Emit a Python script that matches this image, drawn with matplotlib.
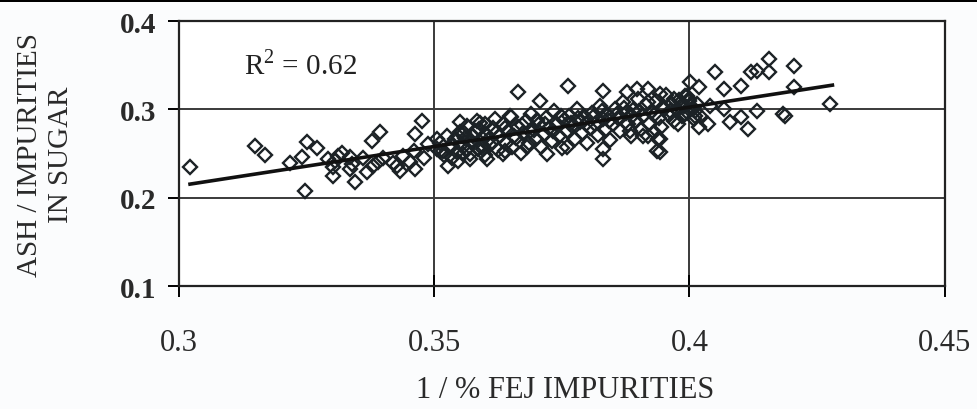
import numpy as np
import matplotlib.pyplot as plt
from matplotlib.patches import Rectangle

# scattered points (1 / % FEJ impurities, ash / impurities in sugar)
ash_x = [
    0.3022, 0.3149, 0.3169, 0.3218, 0.3241, 0.3251, 0.3271, 0.3292, 0.3302, 0.3312,
    0.3335, 0.3302, 0.3345, 0.3247, 0.3335, 0.3369, 0.3390, 0.3378, 0.3394, 0.3427,
    0.3433, 0.3453, 0.3463, 0.3463, 0.3476, 0.3488, 0.3506, 0.3518, 0.3527, 0.3547,
    0.3551, 0.3547, 0.3565, 0.3584, 0.3576, 0.3596, 0.3600, 0.3571, 0.3604, 0.3557,
    0.3512, 0.3305, 0.3320, 0.3340, 0.3360, 0.3380, 0.3400, 0.3420, 0.3440, 0.3460,
    0.3480,
    # dense band
    0.3505, 0.3512, 0.3520, 0.3525, 0.3530, 0.3535, 0.3540, 0.3545, 0.3550, 0.3552,
    0.3560, 0.3565, 0.3570, 0.3575, 0.3580, 0.3585, 0.3590, 0.3595, 0.3600, 0.3602,
    0.3610, 0.3615, 0.3620, 0.3625, 0.3630, 0.3635, 0.3640, 0.3645, 0.3650, 0.3652,
    0.3660, 0.3665, 0.3670, 0.3675, 0.3680, 0.3685, 0.3690, 0.3695, 0.3700, 0.3705,
    0.3710, 0.3715, 0.3720, 0.3725, 0.3730, 0.3735, 0.3740, 0.3745, 0.3750, 0.3755,
    0.3760, 0.3765, 0.3770, 0.3775, 0.3780, 0.3785, 0.3790, 0.3795, 0.3800, 0.3805,
    0.3810, 0.3815, 0.3820, 0.3825, 0.3830, 0.3835, 0.3840, 0.3845, 0.3850, 0.3855,
    0.3860, 0.3865, 0.3870, 0.3875, 0.3880, 0.3885, 0.3890, 0.3895, 0.3900, 0.3905,
    0.3910, 0.3915, 0.3920, 0.3925, 0.3930, 0.3935, 0.3940, 0.3945, 0.3950, 0.3955,
    0.3960, 0.3965, 0.3970, 0.3975, 0.3980, 0.3985, 0.3990, 0.3995, 0.4000, 0.4005,
    0.4010, 0.3992, 0.3978, 0.3985, 0.3990, 0.4000, 0.4010, 0.4015, 0.3975, 0.4020,
    0.3535, 0.3558, 0.3572, 0.3588, 0.3606, 0.3622, 0.3638, 0.3656, 0.3672, 0.3688,
    0.3702, 0.3718, 0.3733, 0.3748, 0.3768, 0.3782, 0.3798, 0.3812, 0.3828, 0.3842,
    0.3858, 0.3872, 0.3888, 0.3902, 0.3918, 0.3932, 0.3948, 0.3962, 0.3983, 0.4003,
    # upper / lower spread, middle
    0.3665, 0.3763, 0.3831, 0.3878, 0.3898, 0.3918, 0.3943, 0.4002, 0.3708, 0.3649,
    0.3682, 0.3722, 0.3761, 0.3831, 0.3831, 0.3910, 0.3943, 0.3943, 0.3884, 0.3635,
    0.3596, 0.3639, 0.3614,
    # right part
    0.4051, 0.4100, 0.4067, 0.4120, 0.4133, 0.4155, 0.4155, 0.4204, 0.4204, 0.4184,
    0.4114, 0.4133, 0.4100, 0.4067, 0.4080, 0.4037, 0.4018, 0.4041, 0.4018, 0.3937,
    0.3939, 0.3918, 0.4008, 0.3992, 0.3969, 0.3996, 0.4276, 0.4188,
]
ash_y = [
    0.2347, 0.2584, 0.2482, 0.2392, 0.2460, 0.2630, 0.2562, 0.2437, 0.2347, 0.2471,
    0.2460, 0.2245, 0.2177, 0.2075, 0.2324, 0.2290, 0.2403, 0.2641, 0.2743, 0.2358,
    0.2301, 0.2403, 0.2324, 0.2720, 0.2867, 0.2607, 0.2664, 0.2528, 0.2358, 0.2698,
    0.2856, 0.2415, 0.2550, 0.2867, 0.2698, 0.2584, 0.2834, 0.2437, 0.2437, 0.2494,
    0.2528, 0.2415, 0.2505, 0.2380, 0.2450, 0.2355, 0.2445, 0.2395, 0.2475, 0.2530,
    0.2455,
    0.2550, 0.2620, 0.2480, 0.2700, 0.2580, 0.2450, 0.2660, 0.2520, 0.2740, 0.2600,
    0.2680, 0.2810, 0.2500, 0.2620, 0.2760, 0.2550, 0.2850, 0.2670, 0.2480, 0.2720,
    0.2600, 0.2790, 0.2890, 0.2540, 0.2700, 0.2830, 0.2620, 0.2760, 0.2910, 0.2570,
    0.2680, 0.2800, 0.2510, 0.2730, 0.2870, 0.2620, 0.2950, 0.2770, 0.2660, 0.2830,
    0.2580, 0.2720, 0.2900, 0.2790, 0.2640, 0.2980, 0.2840, 0.2700, 0.2560, 0.2880,
    0.2750, 0.2930, 0.2810, 0.2670, 0.3000, 0.2860, 0.2730, 0.2910, 0.2620, 0.2790,
    0.2960, 0.2840, 0.2710, 0.3040, 0.2890, 0.2770, 0.2940, 0.2650, 0.2830, 0.3010,
    0.2900, 0.2760, 0.3080, 0.2960, 0.2830, 0.2700, 0.2990, 0.2870, 0.3120, 0.2780,
    0.2930, 0.3050, 0.2840, 0.2970, 0.2740, 0.3090, 0.2900, 0.2800, 0.3010, 0.3160,
    0.2940, 0.3060, 0.2870, 0.2990, 0.3110, 0.2920, 0.3040, 0.2970, 0.3090, 0.3000,
    0.2920, 0.3150, 0.2830, 0.3050, 0.2950, 0.3120, 0.2980, 0.3060, 0.3000, 0.2930,
    0.2590, 0.2730, 0.2640, 0.2780, 0.2650, 0.2730, 0.2790, 0.2700, 0.2820, 0.2760,
    0.2880, 0.2830, 0.2760, 0.2930, 0.2850, 0.2900, 0.2840, 0.2910, 0.2980, 0.2870,
    0.2950, 0.3020, 0.2920, 0.2980, 0.3080, 0.2950, 0.3030, 0.2980, 0.3080, 0.3040,
    0.3196, 0.3264, 0.3207, 0.3196, 0.3230, 0.3230, 0.3173, 0.3309, 0.3094, 0.2924,
    0.2573, 0.2494, 0.2573, 0.2550, 0.2437, 0.2698, 0.2664, 0.2516, 0.2754, 0.2494,
    0.2550, 0.2528, 0.2630,
    0.3422, 0.3264, 0.3230, 0.3422, 0.3434, 0.3570, 0.3422, 0.3490, 0.3253, 0.2947,
    0.2777, 0.2981, 0.2913, 0.3003, 0.2856, 0.2834, 0.2800, 0.3037, 0.3253, 0.2528,
    0.2664, 0.2698, 0.2890, 0.2947, 0.3117, 0.3151, 0.3060, 0.2924,
]

# linear trend as drawn in the chart (end points)
trend_x = [0.3022, 0.4280]
trend_y = [0.2154, 0.3275]
r2_text = r"R$^{\mathregular{2}}$ = 0.62"

x_ticks = [0.3, 0.35, 0.4, 0.45]
x_tick_labels = ["0.3", "0.35", "0.4", "0.45"]
y_ticks = [0.1, 0.2, 0.3, 0.4]
y_tick_labels = ["0.1", "0.2", "0.3", "0.4"]

plt.rcParams['font.family'] = ['Liberation Serif', 'DejaVu Serif']

fig = plt.figure(figsize=(9.77, 4.10), dpi=100)
fig.patch.set_facecolor('#fbfcfd')
ax = fig.add_axes([0.183, 0.300, 0.784, 0.646])
ax.set_facecolor('white')

ax.plot(ash_x, ash_y, linestyle='none', marker='D', markersize=7,
        markerfacecolor='none', markeredgecolor='#1c2226', markeredgewidth=1.7,
        zorder=3)
ax.plot(trend_x, trend_y, color='#111111', linewidth=2.6, zorder=4)

ax.text(0.3128, 0.351, r2_text, fontsize=21, color='#222222', va='center')

ax.set_xlim(0.3, 0.45)
ax.set_ylim(0.1, 0.4)
ax.set_xticks(x_ticks)
ax.set_xticklabels(x_tick_labels, fontsize=22, color='#2a2a2a')
ax.set_yticks(y_ticks)
ax.set_yticklabels(y_tick_labels, fontsize=21, fontweight='bold', color='#2a2a2a')
ax.tick_params(axis='x', direction='inout', length=16, width=1.4, pad=22)
ax.tick_params(axis='y', direction='out', length=8, width=1.4, pad=8)

ax.grid(True, color='#3a3a3a', linewidth=1.4)
ax.set_axisbelow(True)
for s in ax.spines.values():
    s.set_linewidth(1.6)
    s.set_color('#222222')

fig.text(0.578, 0.048, "1 / % FEJ IMPURITIES", fontsize=22, color='#2a2a2a',
         ha='center', va='center')
fig.text(0.047, 0.622, "ASH / IMPURITIES\nIN SUGAR", fontsize=21, color='#2a2a2a',
         ha='center', va='center', rotation=90, linespacing=1.25)

# dark strip along the top edge of the scan
fig.add_artist(Rectangle((0, 0.992), 1, 0.008, transform=fig.transFigure,
                         facecolor='black', edgecolor='none'))

fig.savefig('out.png', dpi=100, facecolor=fig.get_facecolor())
